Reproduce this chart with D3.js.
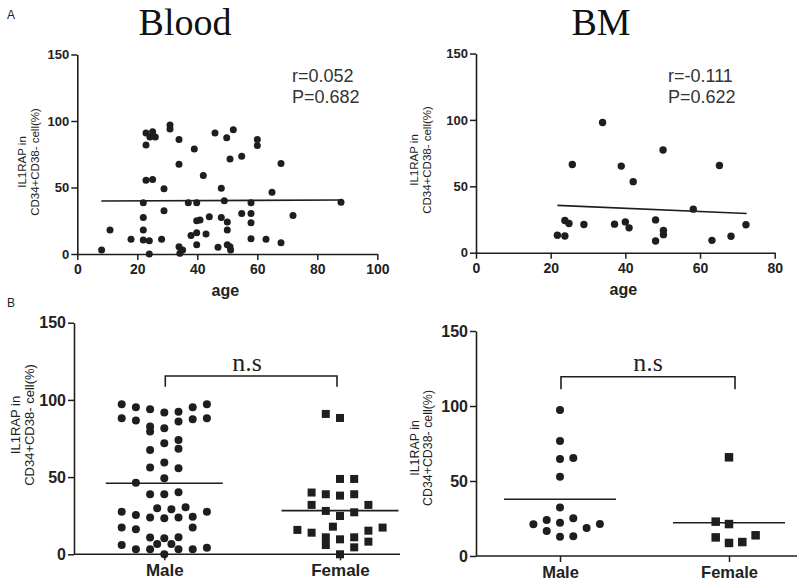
<!DOCTYPE html>
<html><head><meta charset="utf-8">
<script src="https://cdn.jsdelivr.net/npm/d3@7"></script>
<style>body{margin:0;background:#fff}svg{display:block}</style>
</head><body>
<svg id="c" width="800" height="585"></svg>
<script>
// ---------- DATA ----------
const yTicks = [0, 50, 100, 150];
const bloodAgeTicks = [0, 20, 40, 60, 80, 100];
const bmAgeTicks = [0, 20, 40, 60, 80];
const sexCategories = ["Male", "Female"];

const bloodAge = [8.1,10.9,17.9,22,22,22,22,24,24,22.9,22.9,24.2,25.1,26,22.9,25.1,28.1,28.9,28.9,30.9,30.9,33.9,33.9,33.9,34.2,35.1,37,37.9,39,39.8,39.8,39.8,39.8,40.9,42,42.9,44,45.9,46.9,48,48,49,49.8,50,50,50,50.9,51.1,50.9,52,54.8,54.8,57.9,57.9,57.9,57.9,60,60,62.9,64.9,67.9,67.9,71.9,87.9];
const bloodIL1RAP = [3,18,11,18,27.5,38.5,10.5,10,0,82,91,88,92,88,55.5,56,11,49,32.5,97,94,86,67.5,5.5,0.5,3,38.5,14,79,7,16,38.5,25,25.5,59,15,28,91,5,49.5,27.5,40,87.5,24,18,7,5.5,3,71.5,93.5,73.5,30.5,38.5,30.5,23.5,11.5,86,81.5,11,46.5,68,8.5,29,39];
const bloodFit = [[8, 39.8], [88, 40.6]];
const bloodStats = ["r=0.052", "P=0.682"];

const bmAge = [21.8,23.8,23.8,24.9,25.8,28.9,33.9,37.1,38.9,40,41,42.1,48.1,48.1,50.1,50.2,50.2,58.2,63.2,65.2,68.3,72.3];
const bmIL1RAP = [13.1,12.6,24.2,22,66.4,21.2,98,21.5,65.2,23.2,18.7,53.5,24.7,8.8,77.3,16.7,13.6,32.8,9.3,65.7,12.4,21];
const bmFit = [[21.8, 35.6], [72.5, 29.5]];
const bmStats = ["r=-0.111", "P=0.622"];

// dot plots: [column offset, value]
const bloodMale = [[-6,97.2],[-4,95.2],[-2,94],[0,91.8],[2,92.4],[4,95.2],[6,97.2],
  [-6,88.1],[-4,86.6],[-2,82.7],[-2,79.5],[0,81.6],[2,86],[4,87.5],[6,88.1],
  [2,74.1],[2,68.3],[0,71.9],[-2,67.6],[-2,56.2],[0,59.4],[2,55.7],[-4,46.4],[0,49.2],
  [-2,38.9],[0,38.9],[2,40.2],
  [-6,27.6],[-4,25.5],[-2,23.8],[-1,29.8],[0,23.3],[1,29.2],[2,23.8],[3,30.5],[4,24.4],[6,27.6],
  [-6,17.3],[-4,16.2],[4,17.3],[-2,10.8],[0,10.4],[2,11],
  [-6,6],[-4,3.2],[-2,3.2],[-1,6.7],[0,0],[1,6.7],[2,3.2],[4,3.2],[6,4.3]];
const bloodFemale = [[-2,90.9],[0,88.3],[0,48.8],[2,48.8],[-4,40],[-2,38.9],[0,38],[2,38.9],
  [-4,32],[-2,28.1],[0,24.8],[2,27.2],[4,32],[-6,15.8],[-4,14],[-1,17.9],[-2,11],[-2,6],
  [0,9.7],[2,11],[2,4.5],[4,15.3],[4,8.2],[6,17.3],[0,0]];
const bloodMeans = [46, 28.3];
const bloodBracket = [115.5, 108.5];

const bmMale = [[0,97.3],[0,76.7],[0,64.7],[1,65.3],[0,52.9],[0,32.4],[-2,21.1],[-1,24],[0,22.2],[1,25.1],[3,21.3],[-1,16.7],[2,18.7],[0,12.9],[1,13.1]];
const bmFemale = [[0,65.8],[-1,22.9],[0,21.3],[-1,12.4],[0,8.7],[1,9.3],[2,13.8]];
const bmMeans = [37.8, 22.2];
const bmBracket = [119.5, 111.1];

const yLabel = ["IL1RAP in", "CD34+CD38- cell(%)"];

// ---------- DRAW ----------
const svg = d3.select("#c");
const INK = "#1e1e1e";
const SANS = "'Liberation Sans', Arial, sans-serif";
const SERIF = "'Liberation Serif', 'Times New Roman', serif";

function styleAxis(g, fs) {
  g.selectAll("path.domain").attr("stroke", INK).attr("stroke-width", 1.6);
  g.selectAll(".tick line").attr("stroke", INK).attr("stroke-width", 1.5);
  g.selectAll(".tick text").attr("fill", "#222").style("font-family", SANS)
    .style("font-weight", "bold").style("font-size", fs + "px");
}

function yAxis(x0, y, fs) {
  const g = svg.append("g").attr("transform", `translate(${x0},0)`)
    .call(d3.axisLeft(y).tickValues(yTicks).tickSize(6).tickSizeOuter(0).tickPadding(2));
  styleAxis(g, fs);
}

function yTitle(cx, cy, fs, gap) {
  const t = svg.append("text").attr("transform", `translate(${cx},${cy}) rotate(-90)`)
    .attr("text-anchor", "middle").style("font-family", SANS).style("font-size", fs + "px")
    .attr("fill", "#222");
  t.append("tspan").attr("x", 0).attr("dy", 0).text(yLabel[0]);
  t.append("tspan").attr("x", 0).attr("dy", gap).text(yLabel[1]);
}

function scatterPanel(opt) {
  const x = d3.scaleLinear().domain(opt.xDomain).range(opt.xRange);
  const y = d3.scaleLinear().domain([0, 150]).range(opt.yRange);
  const gx = svg.append("g").attr("transform", `translate(0,${opt.yRange[0]})`)
    .call(d3.axisBottom(x).tickValues(opt.xTicks).tickSize(6).tickSizeOuter(0).tickPadding(4));
  styleAxis(gx, 14);
  yAxis(opt.xRange[0], y, 13);
  svg.append("g").selectAll("circle").data(d3.zip(opt.ages, opt.vals)).join("circle")
    .attr("cx", d => x(d[0])).attr("cy", d => y(d[1])).attr("r", opt.r).attr("fill", INK);
  svg.append("line").attr("x1", x(opt.fit[0][0])).attr("y1", y(opt.fit[0][1]))
    .attr("x2", x(opt.fit[1][0])).attr("y2", y(opt.fit[1][1]))
    .attr("stroke", INK).attr("stroke-width", 1.6);
  svg.append("text").attr("x", (opt.xRange[0] + opt.xRange[1]) / 2 - 2).attr("y", opt.yRange[0] + 42)
    .attr("text-anchor", "middle").style("font-family", SANS).style("font-weight", "bold")
    .style("font-size", "16px").attr("fill", "#222").text("age");
  opt.stats.forEach((s, i) => svg.append("text").attr("x", opt.statX).attr("y", 81.5 + i * 21)
    .style("font-family", SANS).style("font-size", "18px").attr("fill", "#333").text(s));
  svg.append("text").attr("x", opt.titleX).attr("y", 35).attr("text-anchor", "middle")
    .style("font-family", SERIF).style("font-size", "38px").attr("fill", "#111").text(opt.title);
  yTitle(opt.labX, opt.labY, 11.5, 12.5);
}

scatterPanel({xDomain: [0, 100], xRange: [77.3, 377.3], yRange: [254, 54.5], xTicks: bloodAgeTicks,
  ages: bloodAge, vals: bloodIL1RAP, fit: bloodFit, r: 3.5, stats: bloodStats, statX: 292,
  title: "Blood", titleX: 185, labX: 26, labY: 162});
scatterPanel({xDomain: [0, 80], xRange: [476, 774.7], yRange: [252.7, 53.5], xTicks: bmAgeTicks,
  ages: bmAge, vals: bmIL1RAP, fit: bmFit, r: 3.7, stats: bmStats, statX: 668,
  title: "BM", titleX: 601, labX: 418, labY: 160});

function dotPanel(opt) {
  const x = d3.scalePoint().domain(sexCategories).range(opt.cats);
  const y = d3.scaleLinear().domain([0, 150]).range(opt.yRange);
  const gx = svg.append("g").attr("transform", `translate(0,${opt.yRange[0]})`)
    .call(d3.axisBottom(x).tickSize(6).tickSizeOuter(0).tickPadding(4));
  styleAxis(gx, opt.catFs);
  gx.select("path.domain").remove();
  svg.append("line").attr("x1", opt.axisX).attr("x2", opt.axisEnd)
    .attr("y1", opt.yRange[0]).attr("y2", opt.yRange[0]).attr("stroke", INK).attr("stroke-width", 1.6);
  yAxis(opt.axisX, y, 16);
  svg.append("g").selectAll("circle").data(opt.male).join("circle")
    .attr("cx", d => x("Male") + d[0] * opt.step).attr("cy", d => y(d[1]))
    .attr("r", opt.r).attr("fill", INK);
  const s = opt.sq;
  svg.append("g").selectAll("rect").data(opt.female).join("rect")
    .attr("x", d => x("Female") + d[0] * opt.step - s / 2).attr("y", d => y(d[1]) - s / 2)
    .attr("width", s).attr("height", s).attr("fill", INK);
  sexCategories.forEach((c, i) => svg.append("line")
    .attr("x1", x(c) - opt.meanHalf).attr("x2", x(c) + opt.meanHalf)
    .attr("y1", y(opt.means[i])).attr("y2", y(opt.means[i]))
    .attr("stroke", INK).attr("stroke-width", 1.6));
  const bx1 = x("Male") + 1, bx2 = x("Female") - opt.bInset;
  svg.append("path").attr("fill", "none").attr("stroke", INK).attr("stroke-width", 1.6)
    .attr("d", `M${bx1},${y(opt.bracket[1])}V${y(opt.bracket[0])}H${bx2}V${y(opt.bracket[1])}`);
  svg.append("text").attr("x", (bx1 + bx2) / 2 - opt.nsShift).attr("y", 370.5).attr("text-anchor", "middle")
    .style("font-family", SERIF).style("font-size", "26px").attr("fill", "#222").text("n.s");
  yTitle(opt.labX, opt.labY, opt.labFs, opt.labFs + 1);
}

dotPanel({cats: [164.3, 340], yRange: [554.3, 322.7], axisX: 74, axisEnd: 400, step: 7.1,
  male: bloodMale, female: bloodFemale, means: bloodMeans, bracket: bloodBracket,
  r: 4, sq: 8, meanHalf: 58.5, catFs: 17, bInset: 3, nsShift: 4, labX: 20, labY: 425, labFs: 13});
dotPanel({cats: [560, 729], yRange: [556, 331], axisX: 476, axisEnd: 797, step: 13.3,
  male: bmMale, female: bmFemale, means: bmMeans, bracket: bmBracket,
  r: 4, sq: 8.5, meanHalf: 56, catFs: 16.5, bInset: -6, nsShift: 0, labX: 419, labY: 448, labFs: 12.4});

svg.append("text").attr("x", 7).attr("y", 18.5).style("font-family", SANS).style("font-size", "12px")
  .attr("fill", "#222").text("A");
svg.append("text").attr("x", 7).attr("y", 307).style("font-family", SANS).style("font-size", "12px")
  .attr("fill", "#222").text("B");
</script>
</body></html>
